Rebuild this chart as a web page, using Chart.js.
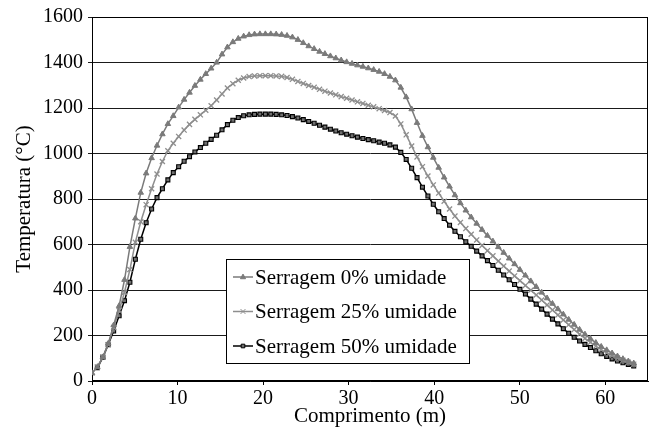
<!DOCTYPE html>
<html>
<head>
<meta charset="utf-8">
<script src="https://cdn.jsdelivr.net/npm/chart.js@4.4.1/dist/chart.umd.min.js"></script>
<style>
body{margin:0;background:#fff}
#box{width:654px;height:429px;position:relative}
</style>
</head>
<body>
<div id="box"><canvas id="c" width="654" height="429"></canvas></div>
<script>

// comprimento (m)
const comprimento=[0,0.63,1.27,1.9,2.53,3.17,3.8,4.43,5.07,5.7,
6.33,6.97,7.6,8.23,8.87,9.5,10.13,10.77,11.4,12.03,
12.67,13.3,13.93,14.57,15.2,15.83,16.47,17.1,17.73,18.37,
19,19.63,20.27,20.9,21.53,22.17,22.8,23.43,24.07,24.7,
25.33,25.97,26.6,27.23,27.87,28.5,29.13,29.77,30.4,31.03,
31.67,32.3,32.93,33.57,34.2,34.83,35.47,36.1,36.73,37.37,
38,38.63,39.27,39.9,40.53,41.17,41.8,42.43,43.07,43.7,
44.33,44.97,45.6,46.23,46.87,47.5,48.13,48.77,49.4,50.03,
50.67,51.3,51.93,52.57,53.2,53.83,54.47,55.1,55.73,56.37,
57,57.63,58.27,58.9,59.53,60.17,60.8,61.43,62.07,62.7,63.33]

const umidade0=[35,62,105,165,245,330,445,590,715,828,
913,980,1035,1085,1130,1165,1203,1237,1268,1298,
1325,1350,1374,1400,1436,1467,1490,1505,1515,1521,
1524,1525,1525,1525,1524,1522,1518,1511,1500,1486,
1472,1460,1448,1438,1428,1419,1410,1402,1395,1388,
1382,1375,1368,1360,1350,1338,1322,1290,1248,1195,
1135,1078,1028,982,938,895,855,817,782,750,
720,692,665,639,614,589,564,539,514,489,
464,439,414,389,364,340,316,293,270,248,
226,205,186,168,151,136,122,109,97,87,78]

const umidade25=[35,62,105,160,235,310,390,490,610,700,
775,845,910,965,1012,1045,1075,1103,1128,1150,
1170,1190,1210,1235,1262,1288,1307,1322,1332,1338,
1341,1342,1342,1342,1341,1339,1334,1326,1317,1308,
1299,1291,1282,1274,1266,1258,1250,1243,1235,1227,
1220,1212,1205,1197,1189,1180,1165,1130,1082,1033,
985,942,901,862,826,790,756,725,697,670,
645,620,596,573,550,527,505,483,462,441,
420,399,378,356,334,312,290,268,247,226,
206,187,170,153,138,124,112,101,91,82,74]

const umidade50=[null,58,104,160,220,287,353,434,535,623,
696,756,806,845,884,916,942,966,986,1007,
1026,1045,1062,1080,1104,1127,1146,1158,1166,1170,
1172,1173,1173,1173,1172,1170,1167,1162,1156,1149,
1141,1133,1124,1116,1107,1099,1091,1085,1078,1072,
1066,1061,1056,1050,1045,1038,1028,1005,974,935,
894,852,813,777,744,714,685,658,634,612,
592,571,550,529,508,487,466,445,424,403,
382,360,338,316,294,272,251,230,210,192,
176,161,147,133,120,108,97,88,80,73,66]

const nomes=["Serragem 0% umidade","Serragem 25% umidade","Serragem 50% umidade"]
const yTicks=[0,200,400,600,800,1000,1200,1400,1600]
const xTicks=[0,10,20,30,40,50,60]

const FONT="'Liberation Serif','Times New Roman',serif"
Chart.defaults.font.family=FONT
Chart.defaults.color="#000"

function pts(vals){
return comprimento.map((x,i)=>({x:x,y:vals[i]}))
}

const estilos=[
{cor:"#7a7a7a",ponto:"triangle",fundo:"#7a7a7a",raio:3.2,borda:1},
{cor:"#8e8e8e",ponto:"crossRot",fundo:"#8e8e8e",raio:3.6,borda:1.3},
{cor:"#000000",ponto:"rect",fundo:"#707070",raio:2.8,borda:1.1}
]

function marker(ctx,tipo,x,y,r,cor,fundo,lw){
ctx.save()
ctx.strokeStyle=cor
ctx.fillStyle=fundo
ctx.lineWidth=lw
ctx.beginPath()
if(tipo==="triangle"){
ctx.moveTo(x,y-r)
ctx.lineTo(x+r*0.9,y+r*0.6)
ctx.lineTo(x-r*0.9,y+r*0.6)
ctx.closePath()
ctx.fill()
ctx.stroke()
}else if(tipo==="crossRot"){
ctx.moveTo(x-r*0.75,y-r*0.75);ctx.lineTo(x+r*0.75,y+r*0.75)
ctx.moveTo(x+r*0.75,y-r*0.75);ctx.lineTo(x-r*0.75,y+r*0.75)
ctx.stroke()
}else{
const s=r*0.72
ctx.rect(x-s,y-s,2*s,2*s)
ctx.fill()
ctx.stroke()
}
ctx.restore()
}

const caixaPlugin={
id:"caixa",
beforeDatasetsDraw(chart){
const a=chart.chartArea,ctx=chart.ctx
ctx.save()
ctx.strokeStyle="#000"
ctx.lineWidth=1
ctx.strokeRect(a.left+0.5,a.top+0.5,a.right-a.left-1,a.bottom-a.top-1)
ctx.restore()
},
afterDraw(chart){
const a=chart.chartArea,ctx=chart.ctx
const lx=a.left+134,ly=a.top+242,w=243,h=104
ctx.save()
ctx.fillStyle="#fff"
ctx.fillRect(lx,ly,w,h)
ctx.strokeStyle="#000"
ctx.lineWidth=1
ctx.strokeRect(lx+0.5,ly+0.5,w,h)
ctx.font="21px "+FONT
ctx.textBaseline="middle"
ctx.fillStyle="#000"
nomes.forEach((n,i)=>{
const y=ly+18+i*34.5
const e=estilos[i]
ctx.strokeStyle=e.cor
ctx.lineWidth=1.5
ctx.beginPath()
ctx.moveTo(lx+7,y)
ctx.lineTo(lx+27,y)
ctx.stroke()
marker(ctx,e.ponto,lx+17,y,e.raio*0.9,e.cor,e.fundo,1)
ctx.fillStyle="#000"
ctx.fillText(n,lx+29,y+1)
})
ctx.restore()
}
}

new Chart(document.getElementById("c"),{
type:"line",
data:{
datasets:[umidade0,umidade25,umidade50].map((v,i)=>({
label:nomes[i],
data:pts(v),
borderColor:estilos[i].cor,
backgroundColor:estilos[i].fundo,
borderWidth:1.5,
pointStyle:estilos[i].ponto,
pointRadius:estilos[i].raio,
pointBorderWidth:estilos[i].borda,
pointBorderColor:estilos[i].cor,
pointBackgroundColor:estilos[i].fundo,
tension:0,
spanGaps:true
}))
},
options:{
responsive:false,
animation:false,
layout:{padding:{top:17,right:6,left:0,bottom:0}},
plugins:{legend:{display:false},tooltip:{enabled:false}},
scales:{
x:{
type:"linear",
min:0,max:65,
afterFit(s){s.height=48},
afterBuildTicks(s){s.ticks=xTicks.map(v=>({value:v}))},
grid:{drawOnChartArea:false,drawTicks:true,tickLength:4,color:"#000"},
border:{display:true,color:"#000",width:1},
ticks:{color:"#000",font:{family:FONT,size:20},padding:2,maxRotation:0,callback:v=>String(v)},
title:{display:true,text:"Comprimento (m)",color:"#000",font:{family:FONT,size:21},padding:{top:0,bottom:0}}
},
y:{
min:0,max:1600,
afterFit(s){s.width=92},
afterBuildTicks(s){s.ticks=yTicks.map(v=>({value:v}))},
grid:{color:"#1a1a1a",lineWidth:1,drawTicks:true,tickLength:4},
border:{display:true,color:"#000",width:1},
ticks:{color:"#000",font:{family:FONT,size:20},padding:5,callback:v=>String(v)},
title:{display:true,text:"Temperatura (°C)",color:"#000",font:{family:FONT,size:21},padding:{top:12,bottom:0}}
}
}
},
plugins:[caixaPlugin]
})

</script>
</body>
</html>
